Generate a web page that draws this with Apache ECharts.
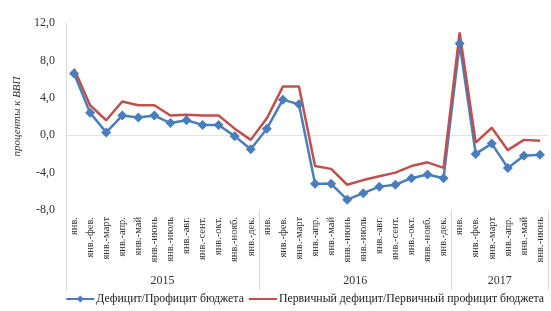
<!DOCTYPE html>
<html>
<head>
<meta charset="utf-8">
<script src="https://cdn.jsdelivr.net/npm/echarts@6/dist/echarts.min.js"></script>
<style>html,body{margin:0;padding:0;background:#fff}#c{width:551px;height:311px}</style>
</head>
<body>
<div id="c"></div>
<script>
var monthLabels = ['янв.','янв.-фев.','янв.-март','янв.-апр.','янв.-май','янв.-июнь','янв.-июль','янв.-авг.','янв.-сент.','янв.-окт.','янв.-нояб.','янв.-дек.'];
var years = ['2015','2016','2017'];
var monthsPerYear = [12, 12, 6];
var categories = [];
for (var y = 0; y < years.length; y++) {
  for (var m = 0; m < monthsPerYear[y]; m++) categories.push(monthLabels[m]);
}
var deficit = [6.6, 2.4, 0.3, 2.1, 1.9, 2.1, 1.3, 1.6, 1.1, 1.1, -0.1, -1.5,
               0.7, 3.8, 3.3, -5.2, -5.2, -6.9, -6.2, -5.5, -5.3, -4.6, -4.2, -4.6,
               9.8, -2.0, -0.9, -3.5, -2.2, -2.1];
var primary = [7.1, 3.2, 1.6, 3.6, 3.2, 3.2, 2.1, 2.2, 2.1, 2.1, 0.7, -0.5,
               1.8, 5.2, 5.2, -3.3, -3.6, -5.3, -4.8, -4.4, -4.0, -3.3, -2.9, -3.5,
               11.0, -0.8, 0.8, -1.6, -0.5, -0.6];
var seriesNames = ['Дефицит/Профицит бюджета', 'Первичный дефицит/Первичный профицит бюджета'];
var yTicks = {min: -8, max: 12, interval: 4};

// year label positions (centre of each year group, in category units)
var yearCenters = {};
var acc = 0;
for (var i = 0; i < years.length; i++) { yearCenters[acc + monthsPerYear[i] / 2] = years[i]; acc += monthsPerYear[i]; }
var yearStarts = {};
acc = 0;
for (var i = 0; i < years.length; i++) { yearStarts[acc] = true; acc += monthsPerYear[i]; }

var serif = 'Liberation Serif';
var chart = echarts.init(document.getElementById('c'));
chart.setOption({
  animation: false,
  grid: {left: 66, right: 3, top: 23, bottom: 101, containLabel: false},
  xAxis: [
    {
      type: 'category', data: categories, position: 'bottom',
      axisLine: {show: false}, axisTick: {show: false},
      axisLabel: {rotate: 90, margin: 7, interval: 0, fontFamily: serif, fontSize: 10.5, color: '#333'},
      splitLine: {show: false}
    },
    {
      type: 'category', data: categories, position: 'bottom',
      axisLine: {show: false}, axisLabel: {show: false},
      axisTick: {show: true, length: 80, interval: function (idx) { return !!yearStarts[idx]; }, lineStyle: {color: '#d9d9d9', width: 1}},
      splitLine: {show: false}
    },
    {
      type: 'value', min: 0, max: categories.length, interval: 1, position: 'bottom',
      axisLine: {show: false}, axisTick: {show: false}, splitLine: {show: false},
      axisLabel: {margin: 65, fontFamily: serif, fontSize: 12, color: '#333', showMinLabel: false, showMaxLabel: false,
        formatter: function (v) { return yearCenters[v] || ''; }}
    }
  ],
  yAxis: {
    type: 'value', min: yTicks.min, max: yTicks.max, interval: yTicks.interval,
    name: 'проценты к ВВП', nameLocation: 'middle', nameGap: 41,
    nameTextStyle: {fontFamily: serif, fontStyle: 'italic', fontSize: 11, color: '#333'},
    axisLine: {show: true, lineStyle: {color: '#d9d9d9'}}, axisTick: {show: false},
    axisLabel: {margin: 11, fontFamily: serif, fontSize: 12, color: '#333',
      formatter: function (v) { return v.toFixed(1).replace('.', ','); }},
    splitLine: {show: true, lineStyle: {color: ['rgba(0,0,0,0)', 'rgba(0,0,0,0)', '#e3e3e3', 'rgba(0,0,0,0)', 'rgba(0,0,0,0)', 'rgba(0,0,0,0)'], width: 1}}
  },
  legend: {
    bottom: 1, right: 2, itemWidth: 28, itemHeight: 9, itemGap: 4,
    textStyle: {fontFamily: serif, fontSize: 11.8, color: '#222', padding: [0, 0, 0, -3]},
    data: [{name: seriesNames[0]}, {name: seriesNames[1], itemStyle: {opacity: 0}}]
  },
  series: [
    {
      name: seriesNames[0], type: 'line', data: deficit, xAxisIndex: 0,
      symbol: 'diamond', symbolSize: 10, showAllSymbol: true,
      lineStyle: {color: '#4a7ebb', width: 2.5}, itemStyle: {color: '#4a7ebb'}
    },
    {
      name: seriesNames[1], type: 'line', data: primary, xAxisIndex: 0,
      symbol: 'none',
      lineStyle: {color: '#c0504d', width: 2.5}, itemStyle: {color: '#c0504d'}
    }
  ]
});
</script>
</body>
</html>
